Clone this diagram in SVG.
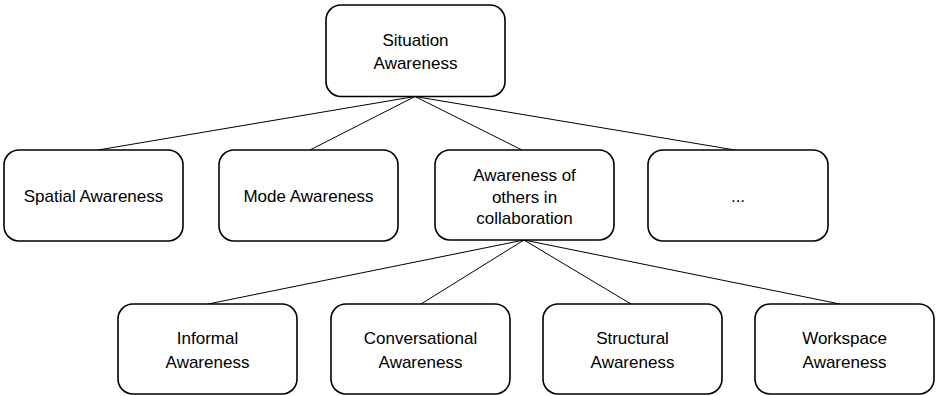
<svg xmlns="http://www.w3.org/2000/svg" width="938" height="396" viewBox="0 0 938 396">
  <style>
    .box { fill: #ffffff; stroke: #000000; stroke-width: 1.6; }
    .edge { stroke: #000000; stroke-width: 1; fill: none; }
    text { font-family: "Liberation Sans", Arial, sans-serif; font-size: 17px; fill: #000000; text-anchor: middle; }
  </style>
  <rect width="938" height="396" fill="#ffffff"/>

  <g id="connectors">
    <line class="edge" x1="415" y1="96.5" x2="98" y2="150"/>
    <line class="edge" x1="415" y1="96.5" x2="310" y2="150"/>
    <line class="edge" x1="415" y1="96.5" x2="522" y2="150"/>
    <line class="edge" x1="415" y1="96.5" x2="735" y2="150"/>
    <line class="edge" x1="524" y1="240" x2="208" y2="304"/>
    <line class="edge" x1="524" y1="240" x2="421" y2="304"/>
    <line class="edge" x1="524" y1="240" x2="631" y2="304"/>
    <line class="edge" x1="524" y1="240" x2="840" y2="304"/>
  </g>

  <g id="situation-awareness">
    <rect class="box" x="326" y="5" width="179" height="91.5" rx="15"/>
    <text x="415.5" y="46">Situation</text>
    <text x="415.5" y="69">Awareness</text>
  </g>

  <g id="spatial-awareness">
    <rect class="box" x="4" y="150" width="179" height="91" rx="15"/>
    <text x="93.5" y="202">Spatial Awareness</text>
  </g>

  <g id="mode-awareness">
    <rect class="box" x="219" y="150" width="179" height="91" rx="15"/>
    <text x="308.5" y="202">Mode Awareness</text>
  </g>

  <g id="awareness-of-others">
    <rect class="box" x="435" y="150" width="179" height="90" rx="15"/>
    <text x="524.5" y="181">Awareness of</text>
    <text x="524.5" y="203">others in</text>
    <text x="524.5" y="224">collaboration</text>
  </g>

  <g id="more">
    <rect class="box" x="648" y="150" width="180" height="91" rx="15"/>
    <text x="738" y="202">...</text>
  </g>

  <g id="informal-awareness">
    <rect class="box" x="118" y="304" width="179" height="90" rx="15"/>
    <text x="207.5" y="344">Informal</text>
    <text x="207.5" y="368">Awareness</text>
  </g>

  <g id="conversational-awareness">
    <rect class="box" x="331" y="304" width="179" height="90" rx="15"/>
    <text x="420.5" y="344">Conversational</text>
    <text x="420.5" y="368">Awareness</text>
  </g>

  <g id="structural-awareness">
    <rect class="box" x="543" y="304" width="179" height="90" rx="15"/>
    <text x="632.5" y="344">Structural</text>
    <text x="632.5" y="368">Awareness</text>
  </g>

  <g id="workspace-awareness">
    <rect class="box" x="755" y="304" width="179" height="90" rx="15"/>
    <text x="844.5" y="344">Workspace</text>
    <text x="844.5" y="368">Awareness</text>
  </g>
</svg>
